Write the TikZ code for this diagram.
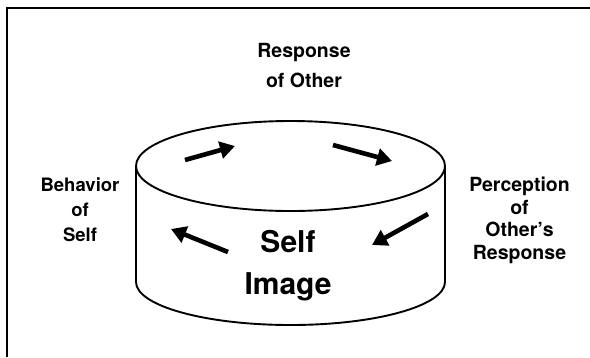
\documentclass[tikz,border=0pt]{standalone}
\usepackage{fontspec}
\setmainfont{TeX Gyre Heros}
\usetikzlibrary{arrows.meta}
\begin{document}
\begin{tikzpicture}[y=1pt, x=1pt, yscale=-1, inner sep=0pt, outer sep=0pt,
  sidetext/.style={font=\fontsize{19}{24}\selectfont\bfseries, align=center, anchor=north},
  flowarrow/.style={draw=black, line width=4.6pt, line cap=butt, -{Triangle[length=15pt, width=17pt]}}]
\useasboundingbox (0,0) rectangle (590,357);
\path[draw=black, line width=2.2pt, line join=miter] (590,8) -- (7,8) -- (7,357);
\path[draw=black, line width=1.9pt] (290.5,166) ellipse[x radius=154.5, y radius=45];
\path[draw=black, line width=1.9pt, line join=round] (136,166) -- (136,282) arc[start angle=180, end angle=0, x radius=154.5, y radius=43] -- (445,166);
\coordinate (a1) at (185,160); \coordinate (b1) at (235,146);
\coordinate (a2) at (333,145); \coordinate (b2) at (392,161);
\coordinate (a3) at (428,214); \coordinate (b3) at (372,245);
\coordinate (a4) at (228,252); \coordinate (b4) at (171,229);
\path[flowarrow] (a1) -- (b1);
\path[flowarrow] (a2) -- (b2);
\path[flowarrow] (a3) -- (b3);
\path[flowarrow] (a4) -- (b4);
\node[sidetext, font=\fontsize{19.5}{30}\selectfont\bfseries] (other) at (304,43) {Response\\of Other};
\node[sidetext, font=\fontsize{18.5}{25}\selectfont\bfseries] (behavior) at (80,178) {Behavior\\of\\Self};
\node[sidetext, font=\fontsize{19.5}{22.7}\selectfont\bfseries] (perception) at (519.5,177) {Perception\\of\\Other’s\\Response};
\node[sidetext, font=\fontsize{30}{42}\selectfont\bfseries] (self) at (288,230) {Self\\Image};
\end{tikzpicture}
\end{document}
